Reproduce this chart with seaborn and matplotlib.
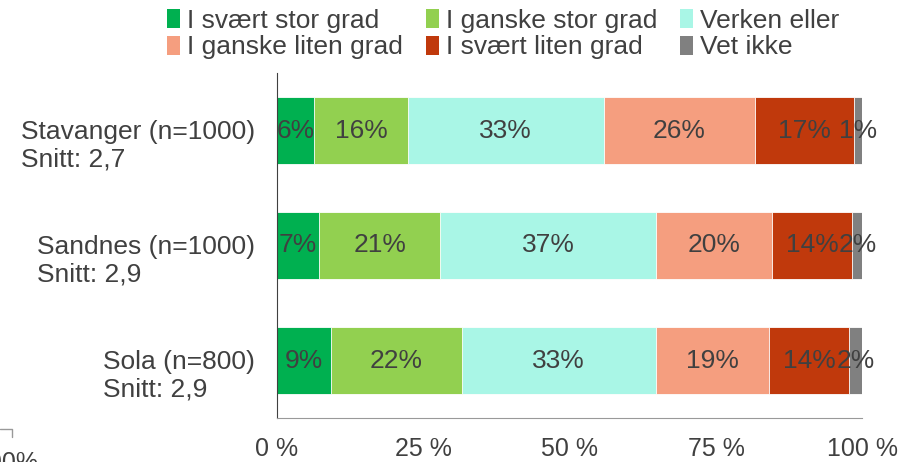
import matplotlib
matplotlib.use("Agg")
import matplotlib.pyplot as plt
import matplotlib.transforms as mtransforms
from matplotlib.patches import Patch
from matplotlib.lines import Line2D
import seaborn as sns
import numpy as np

places = ["Stavanger (n=1000)", "Sandnes (n=1000)", "Sola (n=800)"]
snitt = ["Snitt: 2,7", "Snitt: 2,9", "Snitt: 2,9"]
categories = ["I svært stor grad", "I ganske stor grad", "Verken eller",
              "I ganske liten grad", "I svært liten grad", "Vet ikke"]
svaert_stor = [6.3, 7.2, 9.2]
ganske_stor = [16.1, 20.7, 22.4]
verken = [33.4, 36.8, 33.1]
ganske_liten = [25.9, 19.9, 19.3]
svaert_liten = [16.9, 13.6, 13.8]
vet_ikke = [1.4, 1.9, 2.2]
x_ticks = [0, 25, 50, 75, 100]
x_ticklabels = ["0 %", "25 %", "50 %", "75 %", "100 %"]

colors = ["#00B050", "#92D050", "#A9F6E6", "#F59E7F", "#C0390C", "#808080"]
txt = "#404040"

sns.set_style("white")
plt.rcParams["font.family"] = ["Liberation Sans", "DejaVu Sans"]

vals = np.array([svaert_stor, ganske_stor, verken, ganske_liten, svaert_liten, vet_ikke])
cum = np.cumsum(vals, axis=0)

fig = plt.figure(figsize=(9.16, 4.62), dpi=100)
ax = fig.add_axes([277 / 916, 1 - 418 / 462, 585.3 / 916, 345 / 462])

# stacked bars: draw cumulative totals from the longest down
for k in reversed(range(len(categories))):
    sns.barplot(x=cum[k], y=places, orient="h", color=colors[k], saturation=1,
                width=0.575, edgecolor="white", linewidth=0.6, ax=ax)

for i in range(len(places)):
    for k in range(len(categories)):
        centre = cum[k, i] - vals[k, i] / 2
        ax.text(centre, i, f"{round(vals[k, i])}%", ha="center", va="center",
                fontsize=19, color=txt)

ax.set_xlim(0, 100)
ax.set_ylim(2.5, -0.5)
ax.set_xticks(x_ticks)
ax.set_xticklabels(x_ticklabels, fontsize=18, color=txt)
ax.set_yticks([-0.5, 0.5, 1.5, 2.5])
ax.set_yticklabels([])
ax.set_xlabel("")
ax.set_ylabel("")
ax.tick_params(axis="x", length=6.5, color="#999999", pad=7.5)
ax.tick_params(axis="y", length=5.5, color="#555555")
for s in ["top", "right"]:
    ax.spines[s].set_visible(False)
ax.spines["left"].set_color("#404040")
ax.spines["bottom"].set_color("#999999")

# two-line category labels
off = mtransforms.ScaledTranslation(0, 7.5 / 72, fig.dpi_scale_trans)
trans = mtransforms.blended_transform_factory(ax.transAxes, ax.transData) + off
for i, (p, s) in enumerate(zip(places, snitt)):
    ax.text(-22 / 585.3, i, p + "\n" + s, ha="right", va="top", multialignment="left",
            linespacing=1.2, fontsize=19, color=txt, transform=trans)

order = [0, 3, 1, 4, 2, 5]
handles = [Patch(facecolor=colors[k], edgecolor="none") for k in order]
labels = [categories[k] for k in order]
leg = fig.legend(handles, labels, ncol=3, loc="upper left", bbox_to_anchor=(151 / 916, 1 + 7 / 462),
                 frameon=False, fontsize=19, handlelength=0.5, handleheight=0.75,
                 handletextpad=0.25, columnspacing=0.88, labelspacing=0.1, borderpad=0.1)
for t in leg.get_texts():
    t.set_color(txt)

# stray clipped fragment in the lower left corner
fig.add_artist(Line2D([0, 12 / 916, 12 / 916], [1 - 428.5 / 462, 1 - 428.5 / 462, 1 - 437 / 462],
                      color="#999999", lw=1))
fig.text(38 / 916, 1 - 451 / 462, "100%", ha="right", va="top", fontsize=18, color=txt)

fig.savefig("out.png", dpi=100)
